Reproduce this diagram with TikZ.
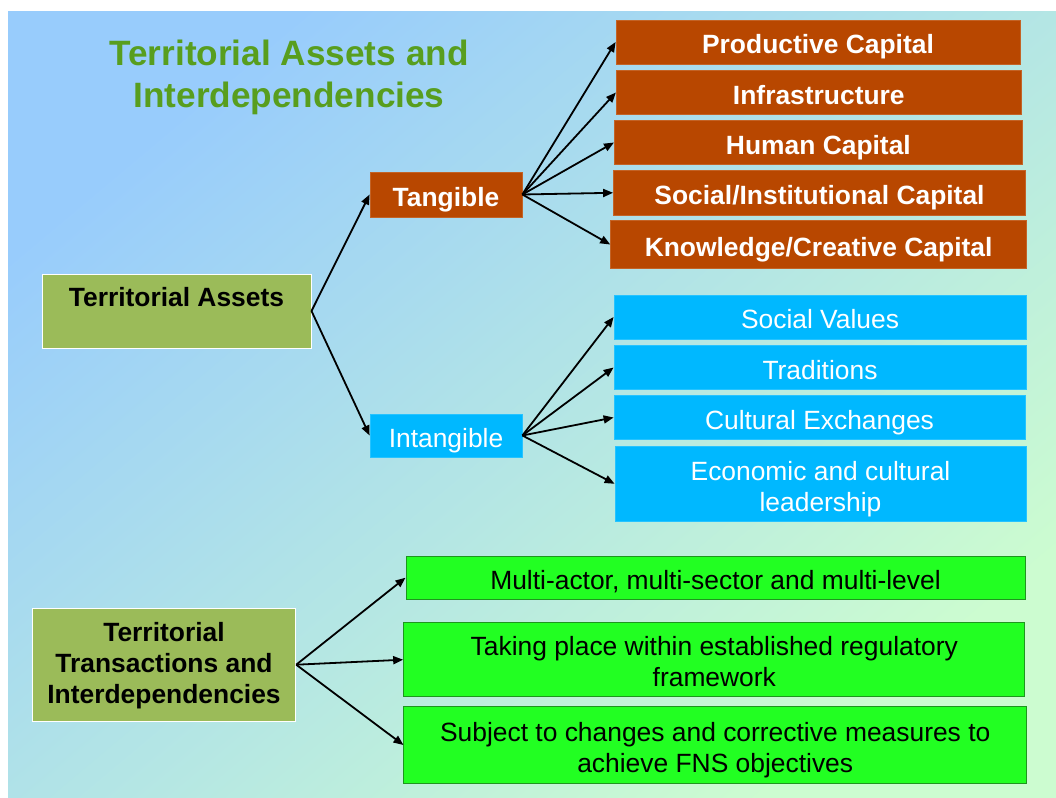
\documentclass[tikz,border=0pt]{standalone}
\usepackage{fontspec}
\setmainfont{Liberation Sans}
\usetikzlibrary{arrows.meta}
\definecolor{bgblue}{RGB}{152,204,252}
\definecolor{bggreen}{RGB}{204,252,208}
\definecolor{titlegreen}{RGB}{88,158,30}
\definecolor{olive}{RGB}{155,187,89}
\definecolor{rust}{RGB}{184,71,0}
\definecolor{sky}{RGB}{0,184,255}
\definecolor{lime}{RGB}{34,255,34}
\definecolor{limeedge}{RGB}{30,150,30}
\newcommand{\ls}{\rule[-0.212em]{0pt}{1.117em}}
\newcommand{\sth}{\rule{0pt}{29pt}}
\newcommand{\std}{\rule[-5.6pt]{0pt}{5.6pt}}
\newcommand{\stt}{\rule{0pt}{20.6pt}}
\begin{document}
\begin{tikzpicture}[x=1pt,y=-1pt,
  box/.style={rectangle, inner sep=0pt, align=center, font=\fontsize{26.4}{31}\selectfont},
  boldbox/.style={box, font=\fontsize{26.4}{31}\selectfont\bfseries},
  olivebox/.style={boldbox, fill=olive, draw=white, line width=1pt, text=black},
  rustbox/.style={boldbox, fill=rust, draw=rust!85!white, line width=0.8pt, text=white},
  skybox/.style={box, fill=sky, draw=sky!85!white, line width=0.8pt, text=white},
  limebox/.style={box, fill=lime, draw=limeedge, line width=1pt, text=black},
  arr/.style={line width=1.8pt, -{Triangle[length=10pt,width=8pt]}}
]
\useasboundingbox (0,0) rectangle (1056,797);
\fill[white] (0,0) rectangle (1056,797);
\shade[top color=bgblue, bottom color=bggreen, shading angle=40] (8,12) rectangle (1056,797);

\node[inner sep=0pt, align=center, text=titlegreen, font=\fontsize{35.2}{41.6}\selectfont\bfseries] (title) at (289,74.3)
  {\ls Territorial Assets and\\ Interdependencies\ls};

\node[olivebox, minimum width=269pt, minimum height=74pt] (ta) at (176.5,311) {\raisebox{16pt}[29pt][5.6pt]{Territorial Assets}};
\node[rustbox, minimum width=152pt, minimum height=45pt] (tang) at (446,194.5) {\sth Tangible\std};
\node[skybox, minimum width=152pt, minimum height=43pt] (intang) at (446,435.5) {\sth Intangible\std};

\node[rustbox, minimum width=404pt, minimum height=44pt] (p1) at (818,42) {\sth Productive Capital\std};
\node[rustbox, minimum width=405pt, minimum height=43.6pt] (p2) at (818.8,92.5) {\sth Infrastructure\std};
\node[rustbox, minimum width=408pt, minimum height=44pt] (p3) at (818.4,142.5) {\sth Human Capital\std};
\node[rustbox, minimum width=412pt, minimum height=44.3pt] (p4) at (819.5,192.8) {\sth Social/Institutional Capital\std};
\node[rustbox, minimum width=416pt, minimum height=47.7pt] (p5) at (818.6,244.5) {\sth Knowledge/Creative Capital\std};

\node[skybox, minimum width=412pt, minimum height=44pt] (s1) at (820,317) {\sth Social Values\std};
\node[skybox, minimum width=412pt, minimum height=43.6pt] (s2) at (820,367.5) {\sth Traditions\std};
\node[skybox, minimum width=411pt, minimum height=43.6pt] (s3) at (819.5,417.5) {\sth Cultural Exchanges\std};
\node[skybox, minimum width=411pt, minimum height=75.7pt] (s4) at (820.5,483.8) {\sth Economic and cultural\\ leadership\std};

\node[olivebox, minimum width=263.4pt, minimum height=112.7pt] (tt) at (164,664.7)
  {\stt Territorial\\ Transactions and\\ Interdependencies\std};

\node[limebox, minimum width=619pt, minimum height=43.3pt] (g1) at (715.5,577.7) {\sth Multi-actor, multi-sector and multi-level\std};
\node[limebox, minimum width=621.3pt, minimum height=74pt] (g2) at (714.3,659.7) {\sth Taking place within established regulatory\\ framework\std};
\node[limebox, minimum width=622.5pt, minimum height=76.7pt] (g3) at (715.2,745) {\sth Subject to changes and corrective measures to\\ achieve FNS objectives\std};

\draw[arr] (ta.east) -- (tang.west);
\draw[arr] (ta.east) -- (intang.west);
\foreach \t in {p1,p2,p3,p4,p5} \draw[arr] (tang.east) -- (\t.west);
\foreach \t in {s1,s2,s3,s4} \draw[arr] (intang.east) -- (\t.west);
\foreach \t in {g1,g2,g3} \draw[arr] (tt.east) -- (\t.west);
\end{tikzpicture}
\end{document}
